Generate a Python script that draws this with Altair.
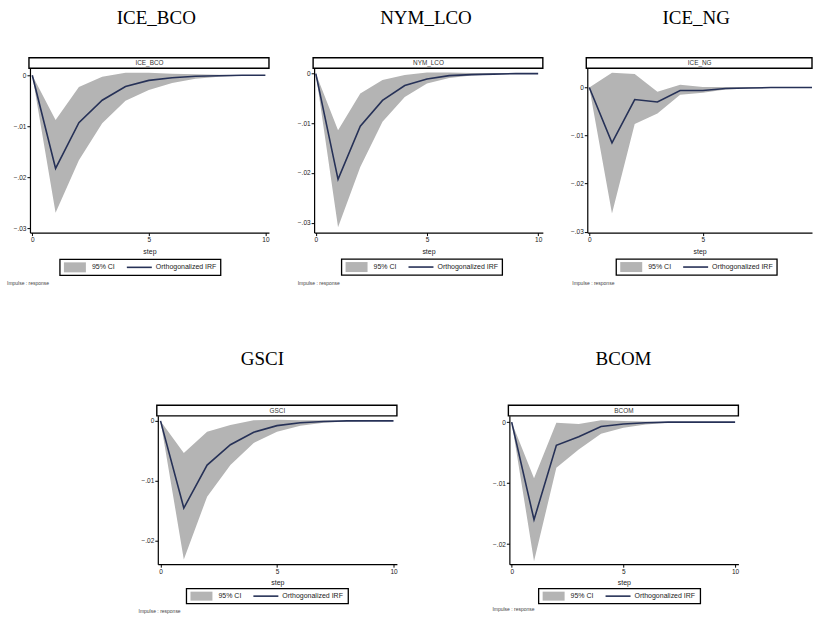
import altair as alt
import pandas as pd

# ---------------- data ----------------
steps = list(range(11))
names = ["ICE_BCO", "NYM_LCO", "ICE_NG", "GSCI", "BCOM"]

irf_ice_bco = [0, -0.0183, -0.0093, -0.0049, -0.0022, -0.0010, -0.0005, -0.0002, -0.0001, 0.0, 0.0]
lo_ice_bco = [0, -0.0270, -0.0167, -0.0094, -0.0050, -0.0029, -0.0015, -0.0007, -0.0003, -0.0001, 0.0]
hi_ice_bco = [0, -0.0088, -0.0023, -0.0003, 0.0005, 0.0005, 0.0003, 0.0002, 0.0001, 0.0, 0.0]

irf_nym_lco = [0, -0.0213, -0.0106, -0.0054, -0.0024, -0.0011, -0.0004, -0.0002, -0.0001, 0.0, 0.0]
lo_nym_lco = [0, -0.0309, -0.0188, -0.0097, -0.0047, -0.0020, -0.0009, -0.0004, -0.0002, -0.0001, 0.0]
hi_nym_lco = [0, -0.0114, -0.0040, -0.0013, -0.0003, 0.0002, 0.0002, 0.0001, 0.0001, 0.0, 0.0]

irf_ice_ng = [0, -0.0115, -0.0025, -0.0030, -0.0006, -0.0006, -0.0002, -0.0001, 0.0, 0.0, 0.0]
lo_ice_ng = [0, -0.0262, -0.0076, -0.0054, -0.0015, -0.0011, -0.0004, -0.0002, -0.0001, 0.0, 0.0]
hi_ice_ng = [0, 0.0031, 0.0028, -0.0009, 0.0006, 0.0001, 0.0001, 0.0001, 0.0, 0.0, 0.0]

irf_gsci = [0, -0.0146, -0.0074, -0.0040, -0.0019, -0.0008, -0.0003, -0.0001, 0.0, 0.0, 0.0]
lo_gsci = [0, -0.0232, -0.0127, -0.0074, -0.0037, -0.0018, -0.0008, -0.0003, -0.0001, 0.0, 0.0]
hi_gsci = [0, -0.0054, -0.0018, -0.0007, 0.0001, 0.0002, 0.0001, 0.0001, 0.0, 0.0, 0.0]

irf_bcom = [0, -0.0160, -0.0038, -0.0024, -0.0007, -0.0003, -0.0001, 0.0, 0.0, 0.0, 0.0]
lo_bcom = [0, -0.0228, -0.0075, -0.0045, -0.0019, -0.0009, -0.0004, -0.0001, 0.0, 0.0, 0.0]
hi_bcom = [0, -0.0092, -0.0001, -0.0003, 0.0003, 0.0002, 0.0001, 0.0, 0.0, 0.0, 0.0]

legend_labels = ["95% CI", "Orthogonalized IRF"]
note_text = "Impulse : response"
x_title = "step"
x_ticks = [0, 5, 10]
y_ticks_top = [0, -0.01, -0.02, -0.03]
y_ticks_bottom = [0, -0.01, -0.02]

# ---------------- style ----------------
AREA = "#b4b4b4"
LINE = "#263157"
SANS = "Liberation Sans"
SERIF = "Liberation Serif"
INK = "#222222"


def panel(name, irf, lo, hi, width, height, xdom, ydom, yticks, xticks,
          title_x, title_y, leg_x, leg_y, leg_w, leg_h, imp_x, imp_y, anchor=False):
    df = pd.DataFrame({"step": steps, "irf": irf, "lo": lo, "hi": hi})
    base = alt.Chart(df)
    xenc = alt.X(
        "step:Q",
        scale=alt.Scale(domain=xdom, nice=False, zero=False),
        axis=alt.Axis(
            values=xticks, format="d", title=x_title, titleFont=SANS, titleFontSize=7,
            titleFontWeight="normal", titleColor=INK, titleY=18.5, titleBaseline="middle",
            labelFont=SANS, labelFontSize=6.5, labelColor=INK, labelPadding=1,
            labelFlush=False, labelOverlap=False, tickSize=3, tickColor="black",
            tickWidth=1, domainColor="black", domainWidth=1.2, grid=False,
        ),
    )
    yenc = alt.Y(
        "lo:Q",
        scale=alt.Scale(domain=ydom, nice=False, zero=False),
        axis=alt.Axis(
            values=yticks, title=None,
            labelExpr="datum.value == 0 ? '0' : replace(format(datum.value, '.2f'), '0.', '.')",
            labelFont=SANS, labelFontSize=6.5, labelColor=INK, labelPadding=1,
            labelFlush=False, labelOverlap=False, tickSize=3, tickColor="black",
            tickWidth=1, domainColor="black", domainWidth=1.2, grid=False,
        ),
    )
    area = base.mark_area(color=AREA, opacity=1, clip=True).encode(x=xenc, y=yenc, y2="hi:Q")
    line = base.mark_line(color=LINE, strokeWidth=1.6, clip=True).encode(
        x=alt.X("step:Q"), y=alt.Y("irf:Q")
    )

    deco = alt.Chart(pd.DataFrame({"label": [name]}))
    header_box = deco.mark_rect(fill="white", stroke="black", strokeWidth=1.4).encode(
        x=alt.value(-1), x2=alt.value(width), y=alt.value(-10.6), y2=alt.value(0)
    )
    header_txt = deco.mark_text(font=SANS, fontSize=6.4, color="#333333",
                                align="center", baseline="middle").encode(
        x=alt.value(width / 2), y=alt.value(-5.3), text="label:N"
    )
    title = deco.mark_text(font=SERIF, fontSize=19, color="black",
                           align="center", baseline="alphabetic").encode(
        x=alt.value(title_x), y=alt.value(title_y), text="label:N"
    )
    leg_box = deco.mark_rect(fill="white", stroke="black", strokeWidth=1.3).encode(
        x=alt.value(leg_x), x2=alt.value(leg_x + leg_w),
        y=alt.value(leg_y), y2=alt.value(leg_y + leg_h)
    )
    leg_sw = deco.mark_rect(fill=AREA).encode(
        x=alt.value(leg_x + 4), x2=alt.value(leg_x + 26),
        y=alt.value(leg_y + 3), y2=alt.value(leg_y + leg_h - 3)
    )
    leg_ln = deco.mark_rule(color=LINE, strokeWidth=1.6).encode(
        x=alt.value(leg_x + 67), x2=alt.value(leg_x + 92), y=alt.value(leg_y + leg_h / 2)
    )
    leg_t1 = deco.mark_text(font=SANS, fontSize=7, color=INK, align="left",
                            baseline="middle").encode(
        x=alt.value(leg_x + 32), y=alt.value(leg_y + leg_h / 2), text=alt.value(legend_labels[0])
    )
    leg_t2 = deco.mark_text(font=SANS, fontSize=7, color=INK, align="left",
                            baseline="middle").encode(
        x=alt.value(leg_x + 96), y=alt.value(leg_y + leg_h / 2), text=alt.value(legend_labels[1])
    )
    note = deco.mark_text(font=SANS, fontSize=5, color="#444444", align="left",
                          baseline="middle").encode(
        x=alt.value(imp_x), y=alt.value(imp_y), text=alt.value(note_text)
    )
    layers = [area, line, header_box, header_txt, title, leg_box, leg_sw, leg_ln,
              leg_t1, leg_t2, note]
    if anchor:
        layers.append(deco.mark_rect(opacity=0).encode(
            x=alt.value(-30), x2=alt.value(-29), y=alt.value(-68), y2=alt.value(-67)))
    return alt.layer(*layers).properties(width=width, height=height)


p1 = panel(names[0], irf_ice_bco, lo_ice_bco, hi_ice_bco, 239.3, 164.5,
           [-0.099, 10.154], [-0.0309, 0.00137], y_ticks_top, x_ticks,
           126.5, -44, 30, 191.3, 161, 16, -23, 215, anchor=True)
p2 = panel(names[1], irf_nym_lco, lo_nym_lco, hi_nym_lco, 229, 164.5,
           [-0.076, 10.21], [-0.0320, 0.00107], y_ticks_top, x_ticks,
           112, -44, 27.5, 191, 161, 16, -16.5, 215)
p3 = panel(names[2], irf_ice_ng, lo_ice_ng, hi_ice_ng, 225, 164.5,
           [-0.088, 9.806], [-0.0302, 0.00401], y_ticks_top, [0, 5],
           109, -44, 29, 191, 161, 16, -15, 215)
p4 = panel(names[3], irf_gsci, lo_gsci, hi_gsci, 239.4, 148.5,
           [-0.116, 10.146], [-0.0240, 0.00084], y_ticks_bottom, x_ticks,
           104.7, -51, 28.7, 173, 162, 15, -19.3, 195)
p5 = panel(names[4], irf_bcom, lo_bcom, hi_bcom, 229.3, 148.5,
           [-0.103, 10.147], [-0.0233, 0.00103], y_ticks_bottom, x_ticks,
           114.3, -51, 29.3, 173, 162, 15, -17, 193)

spacer = alt.Chart(pd.DataFrame({"s": [0]})).mark_rect(opacity=0).encode(
    x=alt.value(0), x2=alt.value(1), y=alt.value(0), y2=alt.value(1)
).properties(width=15.3, height=148.5)

top = alt.hconcat(p1, p2, p3, spacing=44.5, bounds="flush")
bottom = alt.hconcat(spacer, p4, p5, spacing=112, bounds="flush")

# nested rows count with zero height under flush bounds, so the spacing spans
# from the top of the first row to the top of the second row
chart = alt.vconcat(top, bottom, spacing=348, bounds="flush").properties(
    padding=0, background="white"
).configure_view(stroke=None)

chart.save("out.html", embed_options={"renderer": "svg", "actions": False})
